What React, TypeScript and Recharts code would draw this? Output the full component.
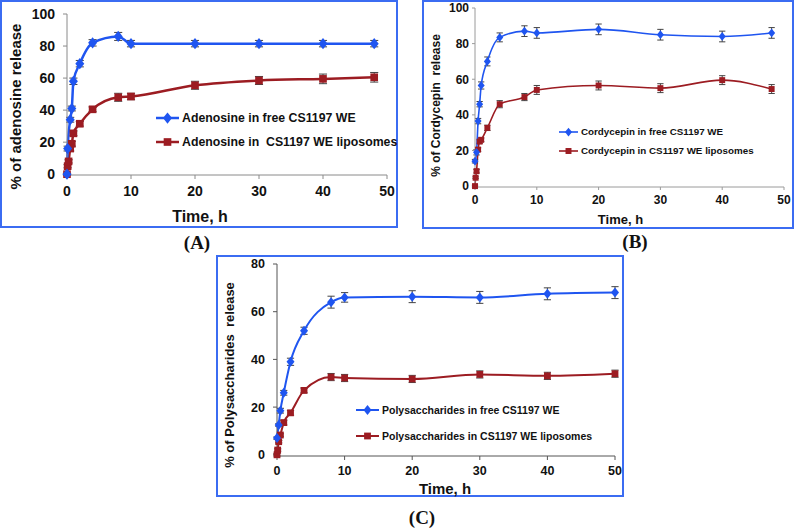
import React from 'react';
import { LineChart, Line, XAxis, YAxis, ErrorBar, Legend } from 'recharts';

// (A) adenosine release
const adenoFreeTime = [0, 0.1, 0.5, 0.75, 1, 2, 4, 8, 10, 20, 30, 40, 48];
const adenoFree = [0, 16, 34, 41, 58, 69, 82, 86, 81.5, 81.5, 81.5, 81.5, 81.5];
const adenoFreeErr = [0.5, 1.5, 1.5, 1.5, 2, 2, 2, 2.5, 2, 2, 2, 2, 2];
const adenoLipoTime = [0, 0.1, 0.25, 0.5, 0.75, 1, 2, 4, 8, 10, 20, 30, 40, 48];
const adenoLipo = [0, 5, 8, 16, 19, 25.5, 31.5, 40.5, 48, 48.5, 55.5, 58.5, 59.5, 60.5];
const adenoLipoErr = [0.5, 1, 1, 1.5, 1.5, 1.5, 1.5, 1.5, 2.5, 2, 2.5, 2.5, 3, 3];

// (B) cordycepin release
const cordyFreeTime = [0, 0.25, 0.5, 0.75, 1, 2, 4, 8, 10, 20, 30, 40, 48];
const cordyFree = [14, 19, 36.5, 46, 56.5, 70, 83.5, 87, 86, 88, 85, 84, 86];
const cordyFreeErr = [1, 1.5, 1.5, 1.5, 2, 2.5, 2.5, 3, 3, 3, 3, 3, 3];
const cordyLipoTime = [0, 0.1, 0.25, 0.5, 0.75, 1, 2, 4, 8, 10, 20, 30, 40, 48];
const cordyLipo = [0, 4.7, 8.4, 20.5, 25, 26, 32.7, 46, 50, 54, 56.5, 55, 59.5, 54.5];
const cordyLipoErr = [0.5, 0.5, 1, 1, 1, 1, 1.5, 2, 2, 2.5, 2.5, 2.5, 2.5, 2.5];

// (C) polysaccharides release
const polyFreeTime = [0, 0.25, 0.5, 1, 2, 4, 8, 10, 20, 30, 40, 50];
const polyFree = [7, 12.5, 18.5, 26, 39, 52, 64, 66, 66.3, 66, 67.5, 68];
const polyFreeErr = [0.5, 0.5, 1, 1, 1.5, 1.5, 2.5, 2, 2.5, 2.5, 2.5, 2.5];
const polyLipoTime = [0, 0.1, 0.25, 0.5, 1, 2, 4, 8, 10, 20, 30, 40, 50];
const polyLipo = [0, 2, 5.5, 8.3, 13.5, 17.6, 27, 32.6, 32.2, 31.8, 33.7, 33.1, 34];
const polyLipoErr = [0.5, 0.5, 0.5, 0.5, 1, 1, 1, 1.5, 1.5, 1.5, 1.5, 1.5, 1.5];

const timeTicks = [0, 10, 20, 30, 40, 50];
const yTicks100 = [0, 20, 40, 60, 80, 100];
const yTicks80 = [0, 20, 40, 60, 80];

const BLUE = '#1f55f0';
const RED = '#9c1c22';
const FRAME = '#3b6cf2';
const SANS = '"Liberation Sans", Arial, sans-serif';

const rows = (time: number[], values: number[], errors: number[]) =>
  time.map((t, i) => ({ t, v: values[i], e: errors[i] }));

function Diamond(props: any) {
  const { cx, cy, r, fill } = props;
  if (cx == null || cy == null) return null;
  const h = r * 1.25;
  return (
    <path
      d={`M${cx},${cy - h} L${cx + r},${cy} L${cx},${cy + h} L${cx - r},${cy} Z`}
      fill={fill}
    />
  );
}

function Square(props: any) {
  const { cx, cy, r, fill } = props;
  if (cx == null || cy == null) return null;
  return <rect x={cx - r} y={cy - r} width={r * 2} height={r * 2} fill={fill} />;
}

const title =
  (text: string, dx: number, dy: number, size: number, vertical = false) =>
  (props: any) => {
    const vb = props.viewBox || { x: 0, y: 0, width: 0, height: 0 };
    const x = vb.x + vb.width / 2 + dx;
    const y = vb.y + vb.height / 2 + dy;
    return (
      <text
        x={x}
        y={y}
        textAnchor="middle"
        dominantBaseline="central"
        transform={vertical ? `rotate(-90 ${x} ${y})` : undefined}
        style={{ fontFamily: SANS, fontWeight: 700, fontSize: size, fill: '#111', whiteSpace: 'pre' }}
      >
        {text}
      </text>
    );
  };

type PanelProps = {
  left: number;
  top: number;
  width: number;
  height: number;
  marginTop: number;
  marginRight: number;
  yWidth: number;
  xHeight: number;
  yMax: number;
  yTicks: number[];
  tickFont: number;
  tickSize: number;
  yTickMargin: number;
  xTickMargin: number;
  yTitle: string;
  yTitleFont: number;
  yTitleDx: number;
  yTitleDy: number;
  xTitleFont: number;
  xTitleDx: number;
  xTitleDy: number;
  freeName: string;
  lipoName: string;
  free: { t: number; v: number; e: number }[];
  lipo: { t: number; v: number; e: number }[];
  lineWidth: number;
  markR: number;
  legendLeft: number;
  legendTop: number;
  legendWidth: number;
  legendFont: number;
  legendGap: number;
  legendLine: number;
  axisColor: string;
};

function Panel(p: PanelProps) {
  const legendContent = () => (
    <div
      style={{
        fontFamily: SANS,
        fontWeight: 700,
        fontSize: p.legendFont,
        color: '#111',
      }}
    >
      {[
        { name: p.freeName, color: BLUE, shape: 'd' },
        { name: p.lipoName, color: RED, shape: 's' },
      ].map((it) => (
        <div
          key={it.name}
          style={{
            display: 'flex',
            alignItems: 'center',
            height: p.legendGap,
            whiteSpace: 'pre',
          }}
        >
          <svg width={p.legendLine + 2} height={14} style={{ marginRight: 1, flex: 'none' }}>
            <line x1={0} x2={p.legendLine} y1={7} y2={7} stroke={it.color} strokeWidth={p.lineWidth} />
            {it.shape === 'd' ? (
              <Diamond cx={p.legendLine / 2} cy={7} r={p.markR} fill={it.color} />
            ) : (
              <Square cx={p.legendLine / 2} cy={7} r={p.markR * 0.85} fill={it.color} />
            )}
          </svg>
          <span>{it.name}</span>
        </div>
      ))}
    </div>
  );

  const tickStyle = { fontFamily: SANS, fontWeight: 700, fontSize: p.tickFont, fill: '#111' };

  return (
    <>
      <div
        style={{
          position: 'absolute',
          left: p.left,
          top: p.top,
          width: p.width,
          height: p.height,
          border: `2px solid ${FRAME}`,
          boxSizing: 'border-box',
        }}
      />
      <div style={{ position: 'absolute', left: p.left, top: p.top }}>
        <LineChart
          width={p.width}
          height={p.height}
          margin={{ top: p.marginTop, right: p.marginRight, left: 0, bottom: 0 }}
        >
          <XAxis
            type="number"
            dataKey="t"
            domain={[0, 50]}
            ticks={timeTicks}
            allowDuplicatedCategory={false}
            height={p.xHeight}
            stroke={p.axisColor}
            tickSize={p.tickSize}
            tickMargin={p.xTickMargin}
            tick={tickStyle}
            label={{ content: title('Time, h', p.xTitleDx, p.xTitleDy, p.xTitleFont) }}
          />
          <YAxis
            type="number"
            domain={[0, p.yMax]}
            ticks={p.yTicks}
            width={p.yWidth}
            stroke={p.axisColor}
            tickSize={p.tickSize}
            tickMargin={p.yTickMargin}
            tick={tickStyle}
            label={{ content: title(p.yTitle, p.yTitleDx, p.yTitleDy, p.yTitleFont, true) }}
          />
          <Legend
            layout="vertical"
            align="center"
            verticalAlign="middle"
            content={legendContent}
            wrapperStyle={{
              left: p.legendLeft,
              top: p.legendTop,
              width: p.legendWidth,
              overflow: 'hidden',
            }}
          />
          <Line
            data={p.lipo}
            dataKey="v"
            name={p.lipoName}
            type="monotone"
            stroke={RED}
            strokeWidth={p.lineWidth}
            dot={<Square r={p.markR * 0.85} fill={RED} />}
            activeDot={false}
            isAnimationActive={false}
          >
            <ErrorBar dataKey="e" width={p.markR * 0.9} stroke="#444" strokeWidth={1} direction="y" />
          </Line>
          <Line
            data={p.free}
            dataKey="v"
            name={p.freeName}
            type="monotone"
            stroke={BLUE}
            strokeWidth={p.lineWidth}
            dot={<Diamond r={p.markR} fill={BLUE} />}
            activeDot={false}
            isAnimationActive={false}
          >
            <ErrorBar dataKey="e" width={p.markR * 0.9} stroke="#444" strokeWidth={1} direction="y" />
          </Line>
        </LineChart>
      </div>
    </>
  );
}

const captionStyle: React.CSSProperties = {
  position: 'absolute',
  fontFamily: '"Liberation Serif", "Times New Roman", serif',
  fontWeight: 700,
  fontSize: 19,
  lineHeight: '22px',
  color: '#111',
  transform: 'translate(-50%, -50%)',
  whiteSpace: 'nowrap',
};

export default function App() {
  return (
    <div
      style={{
        position: 'absolute',
        left: 0,
        top: 0,
        width: 797,
        height: 530,
        background: '#fff',
        overflow: 'hidden',
      }}
    >
      <Panel
        left={0}
        top={0}
        width={398}
        height={228}
        marginTop={14}
        marginRight={11}
        yWidth={67}
        xHeight={53}
        yMax={100}
        yTicks={yTicks100}
        tickFont={14}
        tickSize={4}
        yTickMargin={8}
        xTickMargin={7}
        yTitle="% of adenosine release"
        yTitleFont={15}
        yTitleDx={-18}
        yTitleDy={12}
        xTitleFont={16}
        xTitleDx={-27}
        xTitleDy={15}
        freeName="Adenosine in free CS1197 WE"
        lipoName="Adenosine in  CS1197 WE liposomes"
        free={rows(adenoFreeTime, adenoFree, adenoFreeErr)}
        lipo={rows(adenoLipoTime, adenoLipo, adenoLipoErr)}
        lineWidth={2.5}
        markR={4.5}
        legendLeft={156}
        legendTop={106}
        legendWidth={241}
        legendFont={12.3}
        legendGap={24}
        legendLine={23}
        axisColor="#8a8a8a"
      />
      <Panel
        left={422}
        top={0}
        width={372}
        height={229}
        marginTop={8}
        marginRight={10}
        yWidth={53}
        xHeight={42}
        yMax={100}
        yTicks={yTicks100}
        tickFont={12}
        tickSize={3}
        yTickMargin={3}
        xTickMargin={5}
        yTitle="% of Cordycepin  release"
        yTitleFont={12}
        yTitleDx={-13}
        yTitleDy={8}
        xTitleFont={13}
        xTitleDx={-9}
        xTitleDy={11}
        freeName="Cordycepin in free CS1197 WE"
        lipoName="Cordycepin in CS1197 WE liposomes"
        free={rows(cordyFreeTime, cordyFree, cordyFreeErr)}
        lipo={rows(cordyLipoTime, cordyLipo, cordyLipoErr)}
        lineWidth={1.6}
        markR={3.5}
        legendLeft={137}
        legendTop={122}
        legendWidth={230}
        legendFont={9.8}
        legendGap={19}
        legendLine={19}
        axisColor="#9a9a9a"
      />
      <Panel
        left={216}
        top={255}
        width={408}
        height={242}
        marginTop={9}
        marginRight={9}
        yWidth={61}
        xHeight={41}
        yMax={80}
        yTicks={yTicks80}
        tickFont={12.5}
        tickSize={4}
        yTickMargin={8}
        xTickMargin={6}
        yTitle="% of Polysaccharides  release"
        yTitleFont={13}
        yTitleDx={-17}
        yTitleDy={15}
        xTitleFont={15}
        xTitleDx={-1}
        xTitleDy={12}
        freeName="Polysaccharides in free CS1197 WE"
        lipoName="Polysaccharides in CS1197 WE liposomes"
        free={rows(polyFreeTime, polyFree, polyFreeErr)}
        lipo={rows(polyLipoTime, polyLipo, polyLipoErr)}
        lineWidth={2}
        markR={4}
        legendLeft={140}
        legendTop={142}
        legendWidth={262}
        legendFont={10.5}
        legendGap={26}
        legendLine={23}
        axisColor="#555"
      />
      <div style={{ ...captionStyle, left: 197, top: 243 }}>(A)</div>
      <div style={{ ...captionStyle, left: 635, top: 242 }}>(B)</div>
      <div style={{ ...captionStyle, left: 422, top: 518 }}>(C)</div>
    </div>
  );
}
